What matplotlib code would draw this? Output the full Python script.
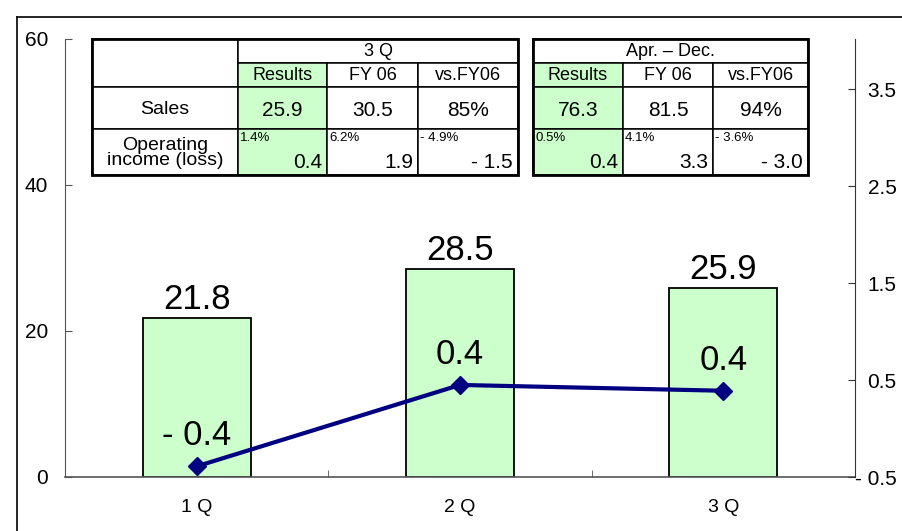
import matplotlib.pyplot as plt
from matplotlib.patches import Rectangle

plt.rcParams['font.family'] = ['Liberation Sans', 'DejaVu Sans']

# datos del grafico
quarters = ['1 Q', '2 Q', '3 Q']
sales = [21.8, 28.5, 25.9]
op_income = [-0.39, 0.45, 0.39]
op_labels = ['- 0.4', '0.4', '0.4']
right_ticks = [-0.5, 0.5, 1.5, 2.5, 3.5]
right_tick_labels = ['- 0.5', '0.5', '1.5', '2.5', '3.5']

# datos de la tabla
col_headers = ['Results', 'FY 06', 'vs.FY06']
q3_sales = ['25.9', '30.5', '85%']
q3_margin = ['1.4%', '6.2%', '- 4.9%']
q3_op = ['0.4', '1.9', '- 1.5']
ytd_sales = ['76.3', '81.5', '94%']
ytd_margin = ['0.5%', '4.1%', '- 3.6%']
ytd_op = ['0.4', '3.3', '- 3.0']

green = '#CCFFCC'
navy = '#000080'

W, H = 902, 531
fig = plt.figure(figsize=(W / 100, H / 100), dpi=100)

x0, x1, ytop, ybot = 65, 855, 39, 477
ax = fig.add_axes([x0 / W, 1 - ybot / H, (x1 - x0) / W, (ybot - ytop) / H])
pos = list(range(len(quarters)))
ax.bar(pos, sales, width=0.41, color=green, edgecolor='black', linewidth=1.3, zorder=2)
for p, v in zip(pos, sales):
    ax.text(p, v + 0.2, f'{v}', ha='center', va='bottom', fontsize=25)
ax.set_xlim(-0.5, 2.5)
ax.set_ylim(0, 60)
ax.set_yticks([0, 20, 40, 60])
ax.set_xticks(pos)
ax.set_xticklabels(quarters, fontsize=14)
ax.set_xticks([0.5, 1.5], minor=True)
ax.tick_params(axis='x', which='major', length=0, pad=16)
ax.tick_params(axis='x', which='minor', length=5, direction='in', color='#555555')
ax.tick_params(axis='y', direction='in', length=5, labelsize=15, pad=12, color='#555555')
ax.spines['top'].set_visible(False)
ax.spines['right'].set_visible(False)
ax.spines['left'].set_color('#555555')
ax.spines['bottom'].set_color('#555555')
ax.spines['bottom'].set_linewidth(1.2)

ax2 = ax.twinx()
ax2.plot(pos, op_income, color=navy, linewidth=3, marker='D', markersize=9, zorder=3)
for p, v, lab in zip(pos, op_income, op_labels):
    ax2.annotate(lab, (p, v), xytext=(0, 10), textcoords='offset points',
                 ha='center', va='bottom', fontsize=25)
ax2.set_ylim(-0.5, 4.02)
ax2.set_yticks(right_ticks)
ax2.set_yticklabels(right_tick_labels)
ax2.tick_params(axis='y', direction='in', length=5, labelsize=15, pad=30, color='#333333')
for lab in ax2.get_yticklabels():
    lab.set_horizontalalignment('right')
ax2.spines['top'].set_visible(False)
ax2.spines['left'].set_visible(False)
ax2.spines['bottom'].set_visible(False)
ax2.spines['right'].set_color('#333333')

# capa superior para el marco y las tablas
ov = fig.add_axes([0, 0, 1, 1], zorder=5)
ov.set_xlim(0, W)
ov.set_ylim(H, 0)
ov.axis('off')
ov.plot([17, W], [17, 17], color='black', linewidth=1.2)
ov.plot([17, 17], [17, H], color='black', linewidth=1.2)

rows = [39, 63, 87, 129, 175]


def cell(xa, xb, ya, yb, fill='white', lw=1.1):
    ov.add_patch(Rectangle((xa, ya), xb - xa, yb - ya, facecolor=fill,
                           edgecolor='black', linewidth=lw))


def draw_table(cols, title, s, m, o, label_col=None):
    if label_col is not None:
        la, lb = label_col
        cell(la, lb, rows[0], rows[2])
        cell(la, lb, rows[2], rows[3])
        cell(la, lb, rows[3], rows[4])
        ov.text((la + lb) / 2, (rows[2] + rows[3]) / 2 + 1, 'Sales', ha='center', va='center', fontsize=14)
        ov.text((la + lb) / 2, (rows[3] + rows[4]) / 2 + 1, 'Operating\nincome (loss)', ha='center',
                va='center', fontsize=14, linespacing=0.8)
    cell(cols[0], cols[-1], rows[0], rows[1])
    ov.text((cols[0] + cols[-1]) / 2, (rows[0] + rows[1]) / 2 + 1, title, ha='center', va='center', fontsize=13)
    for i in range(3):
        xa, xb = cols[i], cols[i + 1]
        fill = green if i == 0 else 'white'
        cell(xa, xb, rows[1], rows[2], fill)
        cell(xa, xb, rows[2], rows[3], fill)
        cell(xa, xb, rows[3], rows[4], fill)
        ov.text((xa + xb) / 2, (rows[1] + rows[2]) / 2 + 1, col_headers[i], ha='center', va='center', fontsize=13)
        ov.text((xa + xb) / 2, (rows[2] + rows[3]) / 2 + 3, s[i], ha='center', va='center', fontsize=15)
        ov.text(xa + 2, rows[3] + 3, m[i], ha='left', va='top', fontsize=9.5)
        ov.text(xb - 5, rows[4] - 3, o[i], ha='right', va='bottom', fontsize=15)
    # contorno grueso
    xa = label_col[0] if label_col is not None else cols[0]
    ov.add_patch(Rectangle((xa, rows[0]), cols[-1] - xa, rows[4] - rows[0], facecolor='none',
                           edgecolor='black', linewidth=2))


draw_table([238, 327, 418, 518], '3 Q', q3_sales, q3_margin, q3_op, label_col=(92, 238))
draw_table([533, 623, 713, 808], 'Apr. \u2013 Dec.', ytd_sales, ytd_margin, ytd_op)

fig.savefig('out.png', dpi=100)
